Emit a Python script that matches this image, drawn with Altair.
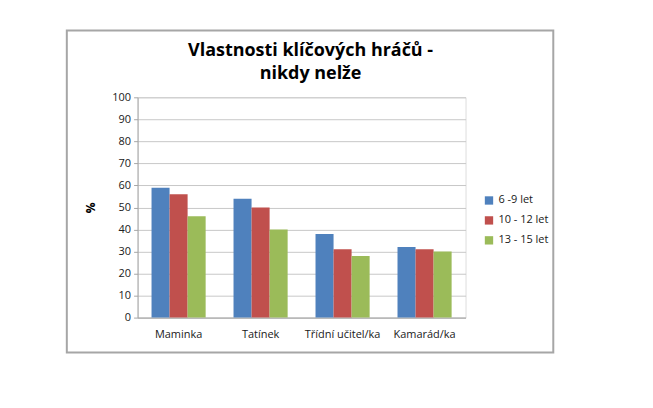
import altair as alt
import pandas as pd

categories = ["Maminka", "Tatínek", "Třídní učitel/ka", "Kamarád/ka"]
groups = ["6 -9 let", "10 - 12 let", "13 - 15 let"]
values_6_9 = [59, 54, 38, 32]
values_10_12 = [56, 50, 31, 31]
values_13_15 = [46, 40, 28, 30]
colors = ["#4f81bd", "#c0504d", "#9bbb59"]
y_ticks = [0, 10, 20, 30, 40, 50, 60, 70, 80, 90, 100]

rows = []
for g, vals in zip(groups, [values_6_9, values_10_12, values_13_15]):
    for c, v in zip(categories, vals):
        rows.append({"kategorie": c, "skupina": g, "hodnota": v})
df = pd.DataFrame(rows)

font = "Open Sans"

bars = alt.Chart(df).mark_bar().encode(
    x=alt.X("kategorie:N", sort=categories, title=None,
            scale=alt.Scale(paddingInner=0.34, paddingOuter=0.17),
            axis=alt.Axis(labelAngle=0, ticks=False, domainColor="#a6a6a6",
                          labelFontSize=11, labelColor="#202020", labelPadding=11,
                          labelFont=font, grid=False)),
    xOffset=alt.XOffset("skupina:N", sort=groups),
    y=alt.Y("hodnota:Q", title="%",
            scale=alt.Scale(domain=[0, 100], nice=False),
            axis=alt.Axis(values=y_ticks, tickSize=4, tickColor="#a6a6a6",
                          domainColor="#a6a6a6", gridColor="#c8c8c8",
                          labelFontSize=11, labelColor="#202020", labelFont=font,
                          labelPadding=3, titleFontSize=12, titleFont=font,
                          titleFontWeight="bold", titlePadding=14, titleColor="#000000")),
    color=alt.Color("skupina:N", sort=groups,
                    scale=alt.Scale(domain=groups, range=colors),
                    legend=alt.Legend(title=None, orient="none", legendX=347, legendY=98,
                                      symbolType="square", symbolSize=70,
                                      symbolStrokeWidth=0, rowPadding=8,
                                      labelFontSize=11, labelFont=font,
                                      labelColor="#202020")),
)

frame_df = pd.DataFrame({"f": [1]})
frame = alt.Chart(frame_df).mark_rect(fill=None, stroke="#a6a6a6", strokeWidth=2,
                                      clip=False).encode(
    x=alt.value(-71), x2=alt.value(417), y=alt.value(-67), y2=alt.value(256)
)

chart = alt.layer(frame, bars).properties(
    width=329, height=221,
    autosize=alt.AutoSizeParams(type="none"),
    padding={"left": 130, "top": 89, "right": 180, "bottom": 60},
    title=alt.TitleParams(text=["Vlastnosti klíčových hráčů -", "nikdy nelže"],
                          font=font, fontSize=18, fontWeight="bold", color="#000000",
                          lineHeight=23, offset=-54, dx=9, anchor="middle"),
).configure_view(fill="#f2f2f2", stroke=None).configure(background="white")

chart.save("out.html", embed_options={"renderer": "svg", "actions": False})
